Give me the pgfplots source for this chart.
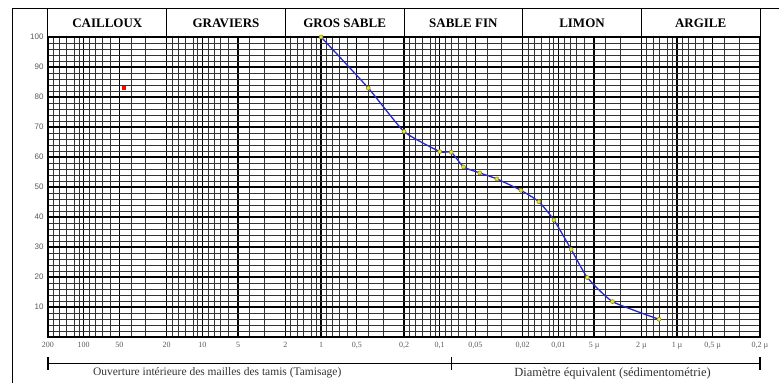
\documentclass[border=0pt]{standalone}
\usepackage{fontspec}
\setmainfont{Liberation Serif}
\newfontfamily\sansf{Liberation Sans}
\usepackage{pgfplots}
\pgfplotsset{compat=1.18}
\begin{document}
\begin{tikzpicture}[x=1pt,y=1pt]
\path[use as bounding box] (0,0) rectangle (779,383);
\draw[line width=1pt] (12,0) -- (12,374) -- (779,374);
\begin{axis}[
  at={(48pt,46pt)}, anchor=south west,
  scale only axis, width=712pt, height=300pt,
  xmode=log, x dir=reverse, xmin=0.0002, xmax=200,
  ymin=0, ymax=100,
  xtick={200,100,50,20,10,5,2,1,0.5,0.2,0.1,0.05,0.02,0.01,0.005,0.002,0.001,0.0005,0.0002},
  xticklabels={200,100,50,20,10,5,2,1,{0,5},{0,2},{0,1},{0,05},{0,02},{0,01},{5 µ},{2 µ},{1 µ},{0,5 µ},{0,2 µ}},
  minor xtick={180,160,140,120,110,90,80,70,60,40,30,
               18,16,14,12,11,9,8,7,6,4,3,
               1.8,1.6,1.4,1.2,1.1,0.9,0.8,0.7,0.6,0.4,0.3,
               0.18,0.16,0.14,0.12,0.11,0.09,0.08,0.07,0.06,0.04,0.03,
               0.018,0.016,0.014,0.012,0.011,0.009,0.008,0.007,0.006,0.004,0.003,
               0.0018,0.0016,0.0014,0.0012,0.0011,0.0009,0.0008,0.0007,0.0006,0.0004,0.0003},
  ytick={10,20,30,40,50,60,70,80,90,100},
  yticklabels={10,20,30,40,50,60,70,80,90,100},
  minor ytick={2,4,6,8,12,14,16,18,22,24,26,28,32,34,36,38,42,44,46,48,52,54,56,58,62,64,66,68,72,74,76,78,82,84,86,88,92,94,96,98},
  grid=both,
  major grid style={black, line width=1.3pt},
  minor grid style={black!80, line width=0.55pt},
  major tick length=0pt, minor tick length=0pt,
  axis line style={line width=1.5pt},
  xticklabel style={font=\fontsize{8}{9}\selectfont, text=black!65, yshift=-2pt},
  yticklabel style={font=\sansf\fontsize{8}{9}\selectfont, text=black!65, xshift=-1pt},
  clip=false,
]
\addplot[color={rgb,255:red,40;green,40;blue,210}, line width=1.3pt, smooth, tension=0.3,
  mark=*, mark size=2pt, mark options={fill={rgb,255:red,230;green,230;blue,50}, draw=olive, line width=0.5pt}]
  coordinates {
  (1,100) (0.4,83) (0.2,68.5) (0.1,61.8) (0.08,61.6) (0.063,56.7) (0.046,54.7)
  (0.033,52.7) (0.0207,48.9) (0.0146,45.1) (0.0109,39) (0.0078,29.2) (0.0057,19.8)
  (0.0035,11.8) (0.00142,5.9)};
\addplot[only marks, mark=square*, mark size=1.6pt, color=red] coordinates {(46,83)};
% header
\draw[line width=1pt] (axis cs:200,100) -- ++(0pt,28pt);
\draw[line width=1pt] (axis cs:20,100) -- ++(0pt,28pt);
\draw[line width=1pt] (axis cs:2,100) -- ++(0pt,28pt);
\draw[line width=1pt] (axis cs:0.2,100) -- ++(0pt,28pt);
\draw[line width=1pt] (axis cs:0.02,100) -- ++(0pt,28pt);
\draw[line width=1pt] (axis cs:0.002,100) -- ++(0pt,28pt);
\draw[line width=1pt] (axis cs:0.0002,100) -- ++(0pt,28pt);
\node[font=\bfseries\fontsize{13}{15}\selectfont] at ([yshift=14pt]axis cs:63.25,100) {CAILLOUX};
\node[font=\bfseries\fontsize{13}{15}\selectfont] at ([yshift=14pt]axis cs:6.325,100) {GRAVIERS};
\node[font=\bfseries\fontsize{13}{15}\selectfont] at ([yshift=14pt]axis cs:0.6325,100) {GROS SABLE};
\node[font=\bfseries\fontsize{13}{15}\selectfont] at ([yshift=14pt]axis cs:0.06325,100) {SABLE FIN};
\node[font=\bfseries\fontsize{13}{15}\selectfont] at ([yshift=14pt]axis cs:0.006325,100) {LIMON};
\node[font=\bfseries\fontsize{13}{15}\selectfont] at ([yshift=14pt]axis cs:0.0006325,100) {ARGILE};
% brackets
\draw[line width=1pt] ([yshift=-26pt]axis cs:200,0) -- ([yshift=-26pt]axis cs:0.0002,0);
\draw[line width=1.2pt] ([yshift=-20pt]axis cs:200,0) -- ([yshift=-33pt]axis cs:200,0);
\draw[line width=1.2pt] ([yshift=-20pt]axis cs:0.08,0) -- ([yshift=-33pt]axis cs:0.08,0);
\draw[line width=1.2pt] ([yshift=-20pt]axis cs:0.0002,0) -- ([yshift=-33pt]axis cs:0.0002,0);
\node[font=\fontsize{11.5}{13}\selectfont, text=black!80] at ([yshift=-36pt]axis cs:7.5,0) {Ouverture intérieure des mailles des tamis (Tamisage)};
\node[font=\fontsize{12.5}{14}\selectfont, text=black!80] at ([yshift=-36pt]axis cs:0.0035,0) {Diamètre équivalent (sédimentométrie)};
\end{axis}
\end{tikzpicture}
\end{document}
